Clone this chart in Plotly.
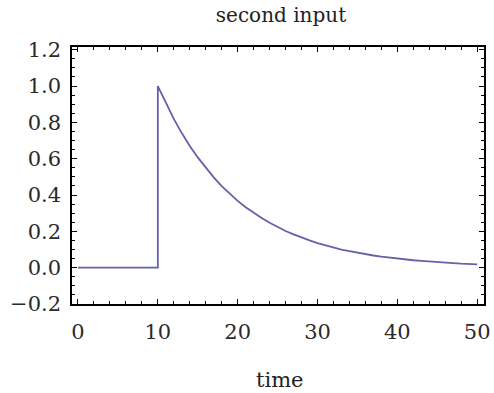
import plotly.graph_objects as go

# time points and the signal
time = [0, 10, 10, 11, 12, 13, 14, 15, 16, 17, 18, 19, 20,
        21, 22, 23, 24, 25, 26, 27, 28, 29, 30,
        31, 32, 33, 34, 35, 36, 37, 38, 39, 40,
        41, 42, 43, 44, 45, 46, 47, 48, 49, 50]
signal = [0.0, 0.0, 1.0, 0.905, 0.819, 0.741, 0.670, 0.607, 0.549, 0.497, 0.449, 0.407, 0.368,
          0.333, 0.301, 0.273, 0.247, 0.223, 0.202, 0.183, 0.165, 0.150, 0.135,
          0.122, 0.111, 0.100, 0.091, 0.082, 0.074, 0.067, 0.061, 0.055, 0.050,
          0.045, 0.041, 0.037, 0.033, 0.030, 0.027, 0.025, 0.022, 0.020, 0.018]

x_ticks = [0, 10, 20, 30, 40, 50]
y_ticks = [-0.2, 0.0, 0.2, 0.4, 0.6, 0.8, 1.0, 1.2]
y_tick_text = ["\u22120.2", "0.0", "0.2", "0.4", "0.6", "0.8", "1.0", "1.2"]

FONT = "DejaVu Serif"

fig = go.Figure()
fig.add_trace(go.Scatter(x=time, y=signal, mode="lines",
                         line=dict(color="rgb(98,98,170)", width=1.8),
                         showlegend=False))

axis_common = dict(
    showline=True, linecolor="black", linewidth=1.5, mirror="allticks",
    ticks="inside", ticklen=5, tickwidth=1.2, tickcolor="black",
    showgrid=False, zeroline=False, ticklabeloverflow="allow",
    tickfont=dict(family=FONT, size=21, color="#2a2a2a"),
)

fig.update_xaxes(range=[-0.75, 50.85], tickvals=x_ticks, ticklabelstandoff=8,
                 minor=dict(dtick=2, ticks="inside", ticklen=3, tickcolor="black", tickwidth=1),
                 **axis_common)
fig.update_yaxes(range=[-0.2, 1.215], tickvals=y_ticks, ticktext=y_tick_text, ticklabelstandoff=5,
                 minor=dict(dtick=0.05, ticks="inside", ticklen=3, tickcolor="black", tickwidth=1),
                 **axis_common)

fig.update_layout(
    width=494, height=393,
    margin=dict(l=72, r=4, t=47, b=89),
    paper_bgcolor="white", plot_bgcolor="white",
    title=dict(text="second input", x=281 / 494, xanchor="center", y=1 - 15 / 393, yanchor="middle",
               font=dict(family=FONT, size=20, color="#222")),
    annotations=[dict(text="time", x=(283 - 72) / 418, xref="paper", y=0, yref="paper",
                      yanchor="middle", yshift=-76, showarrow=False,
                      font=dict(family=FONT, size=21, color="#222"))],
)

fig.write_html("out.html")
